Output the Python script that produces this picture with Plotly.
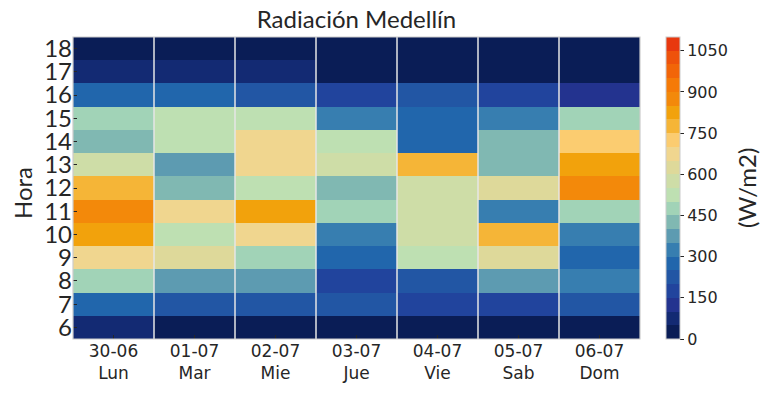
import plotly.graph_objects as go

dates = ["30-06", "01-07", "02-07", "03-07", "04-07", "05-07", "06-07"]
days = ["Lun", "Mar", "Mie", "Jue", "Vie", "Sab", "Dom"]
hours = [6, 7, 8, 9, 10, 11, 12, 13, 14, 15, 16, 17, 18]

# Radiation (W/m2) per hour (6..18) for each day
lun = [80, 270, 470, 680, 830, 880, 780, 570, 420, 480, 280, 70, 10]
mar = [20, 230, 370, 620, 530, 670, 430, 380, 520, 540, 260, 75, 5]
mie = [15, 220, 380, 470, 690, 840, 540, 660, 680, 520, 240, 70, 5]
jue = [20, 210, 180, 290, 330, 460, 410, 570, 530, 320, 190, 30, 5]
vie = [25, 170, 230, 510, 580, 590, 560, 760, 290, 280, 220, 40, 5]
sab = [20, 180, 390, 610, 770, 320, 630, 440, 430, 340, 170, 30, 5]
dom = [25, 240, 330, 280, 310, 490, 880, 820, 730, 460, 130, 40, 5]

cb_ticks = [0, 150, 300, 450, 600, 750, 900, 1050]
zmin, zmax = 0, 1100

colors = [
    "#0A1D56", "#132A73", "#23338F", "#21449D", "#2256A4", "#2166AC",
    "#377EB0", "#5D9BB1", "#80B8B2", "#A1D3B7", "#BEE0B2", "#CEDDA7",
    "#DED99A", "#F0D68F", "#FBCC70", "#F5B537", "#F2A20C", "#F3890A",
    "#F57A07", "#F26508", "#EE520B", "#E8380F",
]
n = len(colors)
colorscale = []
for i, c in enumerate(colors):
    colorscale.append([i / n, c])
    colorscale.append([(i + 1) / n, c])

series = [lun, mar, mie, jue, vie, sab, dom]
z = [[series[d][h] for d in range(len(dates))] for h in range(len(hours))]
xs = list(range(len(dates)))

W, H = 767, 395
L, R, T, B = 73, 127, 37, 56
pw = W - L - R

fig = go.Figure()
fig.add_trace(go.Heatmap(
    z=z, x=xs, y=hours,
    colorscale=colorscale, zmin=zmin, zmax=zmax,
    xgap=0, ygap=0,
    colorbar=dict(
        thickness=14, len=1, lenmode="fraction", y=0.5, yanchor="middle",
        x=(666 - L) / pw, xanchor="left", xpad=0, ypad=0,
        outlinecolor="#CCCCCC", outlinewidth=1,
        tickvals=cb_ticks, ticks="outside", ticklen=4, tickcolor="#262626",
        tickfont=dict(family="DejaVu Sans", size=16, color="#262626"),
    ),
    hoverinfo="skip",
))

for i in range(len(dates) - 1):
    fig.add_shape(type="line", xref="x", yref="paper",
                  x0=i + 0.5, x1=i + 0.5, y0=0, y1=1,
                  line=dict(color="#E6E6E6", width=1.5))

fig.add_shape(type="rect", xref="paper", yref="paper", x0=0, x1=1, y0=0, y1=1,
              line=dict(color="#CCCCCC", width=1.2))

fig.add_annotation(text="(W/m2)", xref="paper", yref="paper",
                   x=(746 - L) / pw, y=0.5, showarrow=False, textangle=-90,
                   xanchor="center", yanchor="middle",
                   font=dict(family="Lato", size=24, color="#262626"))

fig.add_annotation(text="Hora", xref="paper", yref="paper",
                   x=(22 - L) / pw, y=(H - B - 193) / (H - T - B), showarrow=False,
                   textangle=-90, xanchor="center", yanchor="middle",
                   font=dict(family="Lato", size=24, color="#262626"))

fig.update_layout(
    width=W, height=H,
    margin=dict(l=L, r=R, t=T, b=B, autoexpand=False),
    paper_bgcolor="white", plot_bgcolor="white",
    title=dict(text="Radiación Medellín", x=(L + pw / 2) / W, xanchor="center",
               y=1 - 20 / H, yanchor="middle",
               font=dict(family="Lato", size=24, color="#262626")),
    xaxis=dict(
        tickvals=xs, ticktext=[f"{d}<br>{w}" for d, w in zip(dates, days)],
        range=[-0.5, len(dates) - 0.5], showgrid=False, zeroline=False,
        ticks="inside", ticklen=4, tickcolor="#262626", automargin=False,
        tickfont=dict(family="DejaVu Sans", size=17, color="#262626"),
    ),
    yaxis=dict(
        tickvals=hours, range=[hours[0] - 0.5, hours[-1] + 0.5],
        showgrid=False, zeroline=False, automargin=False,
        ticks="inside", ticklen=4, tickcolor="#262626",
        tickfont=dict(family="Lato", size=24, color="#262626"),
    ),
)

fig.write_html("out.html", config={"displayModeBar": False},
               post_script="document.body.style.margin='0px';")
